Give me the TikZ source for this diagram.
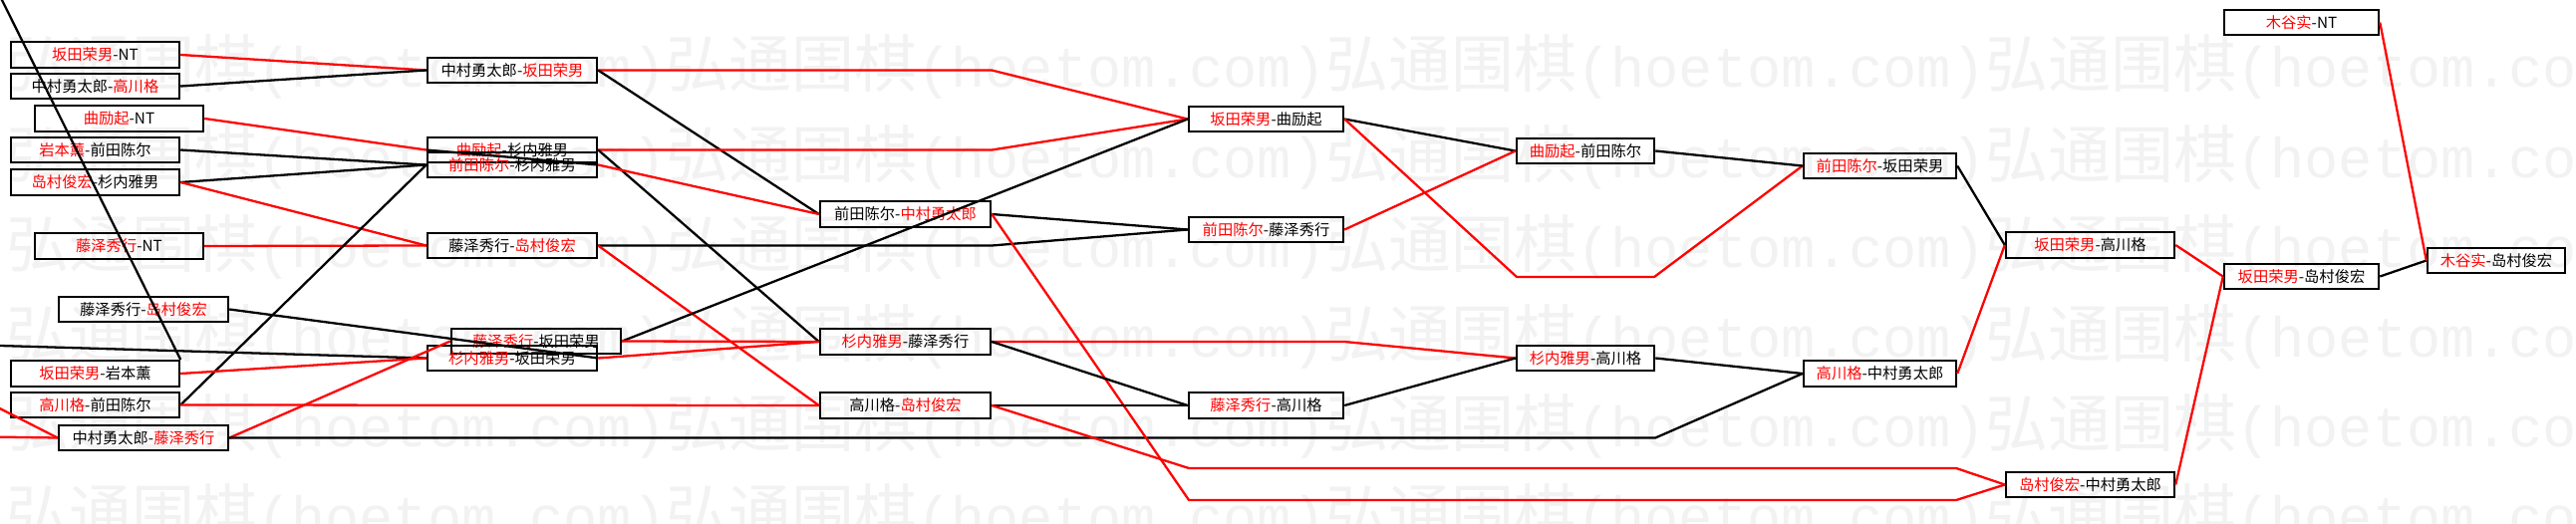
\documentclass[tikz,border=0pt]{standalone}
\usepackage{fontspec}
\setmainfont{Noto Sans CJK SC}
\newfontfamily\wmmono{Liberation Mono}
\newcommand\redt[1]{\textcolor{red}{#1}}
\newcommand\wmtext{{\fontsize{17.9pt}{18pt}\selectfont 弘通围棋}{\wmmono\fontsize{16.2pt}{18pt}\selectfont (hoetom.com)}}
\begin{document}
\begin{tikzpicture}[x=0.1mm,y=-0.1mm,
  bx/.style={draw, line width=0.7pt, rectangle, inner sep=0pt, minimum height=2.55mm, font=\fontsize{4.35pt}{5pt}\selectfont},
  rl/.style={red, line width=0.65pt, line join=round},
  bl/.style={black, line width=0.65pt, line join=round},
  wmk/.style={anchor=base west, inner sep=0pt, text=black!5}]
\fill[white] (0,0) rectangle (2585,525);
\useasboundingbox (0,0) rectangle (2585,525);
% watermark
\foreach \k in {0,...,5} \foreach \j in {-1,...,3}
  \node[wmk] (wm-\k-\j) at ({6+662*\j},{88+90*\k}) {\wmtext};
% column 1
\node[bx, minimum width=16.9mm] (A1) at (95.5,55) {\redt{坂田荣男}-NT};
\node[bx, minimum width=16.9mm] (A2) at (95.5,86.5) {中村勇太郎-\redt{高川格}};
\node[bx, minimum width=16.9mm] (A3) at (119.5,119) {\redt{曲励起}-NT};
\node[bx, minimum width=16.9mm] (A4) at (95.5,150.5) {\redt{岩本薰}-前田陈尔};
\node[bx, minimum width=16.9mm] (A5) at (95.5,183) {\redt{岛村俊宏}-杉内雅男};
\node[bx, minimum width=16.9mm] (A6) at (119.5,247) {\redt{藤泽秀行}-NT};
\node[bx, minimum width=17mm] (A7) at (144,310.5) {藤泽秀行-\redt{岛村俊宏}};
\node[bx, minimum width=16.9mm] (A8) at (95.5,375) {\redt{坂田荣男}-岩本薰};
\node[bx, minimum width=16.9mm] (A9) at (95.5,406.5) {\redt{高川格}-前田陈尔};
\node[bx, minimum width=17mm] (A10) at (144,439.5) {中村勇太郎-\redt{藤泽秀行}};
% column 2
\node[bx, minimum width=17mm] (B1) at (514,70.5) {中村勇太郎-\redt{坂田荣男}};
\node[bx, minimum width=17mm] (B2) at (514,150.5) {\redt{曲励起}-杉内雅男};
\node[bx, minimum width=17mm] (B3) at (514,165.5) {\redt{前田陈尔}-杉内雅男};
\node[bx, minimum width=17mm] (B4) at (514,246.5) {藤泽秀行-\redt{岛村俊宏}};
\node[bx, minimum width=17mm] (B5) at (538,342.5) {\redt{藤泽秀行}-坂田荣男};
\node[bx, minimum width=17mm] (B6) at (514,359.5) {\redt{杉内雅男}-坂田荣男};
% column 3
\node[bx, minimum width=17.1mm] (C1) at (908.5,215) {前田陈尔-\redt{中村勇太郎}};
\node[bx, minimum width=17.1mm] (C2) at (908.5,343) {\redt{杉内雅男}-藤泽秀行};
\node[bx, minimum width=17.1mm] (C3) at (908.5,407) {高川格-\redt{岛村俊宏}};
% column 4
\node[bx, minimum width=15.5mm] (D1) at (1270.5,119.5) {\redt{坂田荣男}-曲励起};
\node[bx, minimum width=15.5mm] (D2) at (1270.5,230.5) {\redt{前田陈尔}-藤泽秀行};
\node[bx, minimum width=15.5mm] (D3) at (1270.5,407) {\redt{藤泽秀行}-高川格};
% column 5
\node[bx, minimum width=13.8mm] (E1) at (1591,151.5) {\redt{曲励起}-前田陈尔};
\node[bx, minimum width=13.8mm] (E2) at (1591,359.5) {\redt{杉内雅男}-高川格};
% column 6
\node[bx, minimum width=15.3mm] (F1) at (1886.5,166.5) {\redt{前田陈尔}-坂田荣男};
\node[bx, minimum width=15.3mm] (F2) at (1886.5,375) {\redt{高川格}-中村勇太郎};
% column 7
\node[bx, minimum width=16.9mm] (G1) at (2097.5,246) {\redt{坂田荣男}-高川格};
\node[bx, minimum width=16.9mm] (G2) at (2097.5,486.5) {\redt{岛村俊宏}-中村勇太郎};
% column 8
\node[bx, minimum width=15.5mm] (H0) at (2309.5,22.5) {\redt{木谷实}-NT};
\node[bx, minimum width=15.5mm] (H1) at (2309.5,277.5) {\redt{坂田荣男}-岛村俊宏};
% column 9
\node[bx, minimum width=13.8mm] (I1) at (2505,261.5) {\redt{木谷实}-岛村俊宏};
% free ends and bends
\coordinate (o1) at (-3,-10);
\coordinate (o2) at (-10,346.7);
\coordinate (o3) at (-10,405);
\coordinate (o4) at (-10,438.5);
\coordinate (k1) at (1193,502);
\coordinate (k2) at (1963,502);
\coordinate (k3) at (1193,470);
\coordinate (k4) at (1963,470);
\coordinate (k5) at (1522,278);
\coordinate (k6) at (1660,278);
% connectors: column 1 -> 2
\draw[rl] (A1.east) -- (B1.west);
\draw[bl] (A2.east) -- (B1.west);
\draw[rl] (A3.east) -- (B2.west);
\draw[bl] (A4.east) -- (B3.west);
\draw[bl] (A5.east) -- (B3.west);
\draw[rl] (A5.east) -- (B4.west);
\draw[rl] (A6.east) -- (B4.west);
\draw[bl] (A9.east) -- (B3.west);
\draw[bl] (o1) -- (A8.north east);
\draw[bl] (A7.east) -- (B6.east);
\draw[bl] (o2) -- (B6.west);
\draw[rl] (A8.east) -- (B6.west);
\draw[rl] (A10.east) -- (B5.west);
\draw[rl] (o3) -- (A10.west);
\draw[rl] (o4) -- (A10.west);
\draw[bl] (A10.east) -- (A10.east -| E2.east) -- (F2.west);
\draw[rl] (A9.east) -- (C3.west);
\draw[bl] (B2.west) -- (B3.east);
% column 2 -> 3/4
\draw[rl] (B1.east) -- (B1.east -| C1.east) -- (D1.west);
\draw[bl] (B1.east) -- (C1.west);
\draw[rl] (B2.east) -- (B2.east -| C1.east) -- (D1.west);
\draw[bl] (B2.east) -- (C2.west);
\draw[rl] (B3.east) -- (C1.west);
\draw[bl] (B4.east) -- (B4.east -| C1.east) -- (D2.west);
\draw[rl] (B4.east) -- (C3.west);
\draw[bl] (B5.east) -- (D1.west);
\draw[rl] (B5.east) -- (C2.west);
\draw[rl] (B6.east) -- (C2.west);
% column 3 -> 4 and beyond
\draw[bl] (C1.east) -- (D2.west);
\draw[rl] (C1.east) -- (k1) -- (k2) -- (G2.west);
\draw[rl] (C2.east) -- (C2.east -| D3.east) -- (E2.west);
\draw[bl] (C2.east) -- (D3.west);
\draw[bl] (C3.east) -- (D3.west);
\draw[rl] (C3.east) -- (k3) -- (k4) -- (G2.west);
% column 4 -> 5/6
\draw[bl] (D1.east) -- (E1.west);
\draw[rl] (D1.east) -- (k5) -- (k6) -- (F1.west);
\draw[rl] (D2.east) -- (E1.west);
\draw[bl] (D3.east) -- (E2.west);
% column 5 -> 6
\draw[bl] (E1.east) -- (F1.west);
\draw[bl] (E2.east) -- (F2.west);
% column 6 -> 7
\draw[bl] (F1.east) -- (G1.west);
\draw[rl] (F2.east) -- (G1.west);
% column 7 -> 8
\draw[rl] (G1.east) -- (H1.west);
\draw[rl] (G2.east) -- (H1.west);
% column 8 -> 9
\draw[bl] (H1.east) -- (I1.west);
\draw[rl] (H0.east) -- (I1.west);
\end{tikzpicture}
\end{document}
